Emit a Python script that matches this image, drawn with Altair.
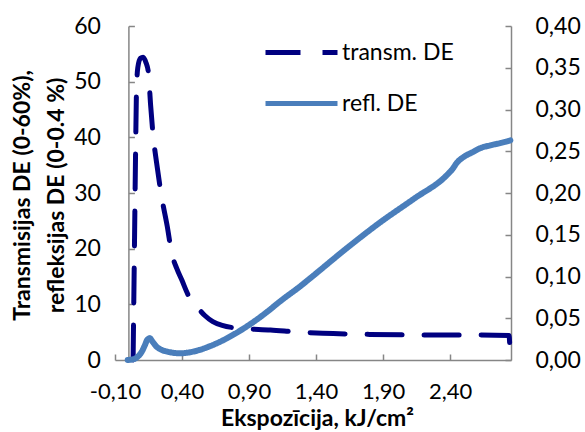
import altair as alt
import pandas as pd

# ---------------- data ----------------
series_names = ["transm. DE", "refl. DE"]

transm_x = [0.035, 0.045, 0.055, 0.06, 0.07, 0.09, 0.11, 0.13, 0.15, 0.165, 0.186,
            0.21, 0.248, 0.29, 0.323, 0.36, 0.398, 0.45, 0.51, 0.57, 0.63, 0.70,
            0.83, 1.06, 1.28, 1.45, 1.80, 2.20, 2.50, 2.84, 2.85]
transm_y = [0, 20, 40, 48, 52.5, 54.2, 54.4, 53.5, 51.5, 46, 40,
            35.5, 29.3, 24, 19.2, 16.5, 14.4, 11.5, 9.6, 8.0, 6.9, 6.2,
            5.7, 5.4, 5.0, 4.8, 4.6, 4.5, 4.5, 4.4, 0]

refl_x = [-0.005, 0.04, 0.07, 0.10, 0.124, 0.14, 0.16, 0.18, 0.21, 0.25, 0.29,
          0.34, 0.39, 0.45, 0.53, 0.60, 0.66, 0.78, 0.91, 1.03, 1.13, 1.28, 1.38,
          1.63, 1.88, 2.13, 2.38, 2.42, 2.45, 2.50, 2.57, 2.63, 2.70, 2.78, 2.85]
refl_y = [0.0, 0.001, 0.004, 0.010, 0.018, 0.024, 0.026, 0.022, 0.016, 0.012, 0.010,
          0.0085, 0.008, 0.009, 0.012, 0.016, 0.020, 0.030, 0.043, 0.057, 0.070, 0.088, 0.101,
          0.134, 0.165, 0.193, 0.222, 0.229, 0.236, 0.243, 0.249, 0.254, 0.257, 0.260, 0.263]

x_ticks = [-0.10, 0.40, 0.90, 1.40, 1.90, 2.40]
left_ticks = [0, 10, 20, 30, 40, 50, 60]
right_ticks = [0.00, 0.05, 0.10, 0.15, 0.20, 0.25, 0.30, 0.35, 0.40]

x_title = "Ekspozīcija, kJ/cm²"
y_title = ["Transmisijas DE (0-60%),", "refleksijas DE (0-0.4 %)"]

# ---------------- style ----------------
FONT = "Lato"
GRAY = "#868686"
W, H = 396, 334
X_MIN, X_MAX = -0.1, 2.855
Y0_POS = (0 - X_MIN) / (X_MAX - X_MIN) * W   # left axis sits at x = 0
TICK = 6

comma2 = "replace(replace(format(datum.value, '.2f'), '.', ','), '\u2212', '-')"

transm_df = pd.DataFrame({"x": transm_x, "v": transm_y, "series": series_names[0]})
refl_df = pd.DataFrame({"x": refl_x, "v": refl_y, "series": series_names[1]})

legend = alt.Legend(
    title=None, orient="none", legendX=148, legendY=-12,
    symbolType="stroke", symbolSize=5184, symbolStrokeWidth=5,
    labelFont=FONT, labelFontSize=23, labelColor="black", labelOffset=2,
    rowPadding=-30,
)
color = alt.Color("series:N",
                  scale=alt.Scale(domain=series_names, range=["#000080", "#4A7EBB"]),
                  legend=legend)
dash = alt.StrokeDash("series:N",
                      scale=alt.Scale(domain=series_names, range=[[35, 22], [1, 0]]),
                      legend=legend)

x_scale = alt.Scale(domain=[X_MIN, X_MAX], nice=False, zero=False)
left_scale = alt.Scale(domain=[0, 60], nice=False)
right_scale = alt.Scale(domain=[0, 0.4], nice=False)

# main x axis: domain line, labels and title (ticks drawn inward by a helper axis)
x_main = alt.X(
    "x:Q", scale=x_scale,
    axis=alt.Axis(
        values=x_ticks, labelExpr=comma2, grid=False, ticks=False,
        labelOverlap=False, labelFlush=False,
        labelFont=FONT, labelFontSize=22, labelColor="black", labelPadding=21,
        domainColor=GRAY, domainWidth=1.5,
        title=x_title, titleFont=FONT, titleFontSize=23, titleFontWeight="bold",
        titleColor="black", titleBaseline="alphabetic", titleX=202, titleY=65,
        titleAlign="center",
    ),
)

transm_line = alt.Chart(transm_df).mark_line(
    strokeWidth=5, interpolate="monotone", strokeCap="round"
).encode(
    x=x_main,
    y=alt.Y(
        "v:Q", scale=left_scale,
        axis=alt.Axis(
            orient="left", values=left_ticks, offset=-Y0_POS, grid=False, ticks=False,
            labelFont=FONT, labelFontSize=23, labelColor="black", labelPadding=28,
            domainColor=GRAY, domainWidth=1.5,
            title=y_title, titleFont=FONT, titleFontSize=23, titleFontWeight="bold",
            titleColor="black", titleBaseline="alphabetic", titleLineHeight=34,
            titleAngle=-90, titleAlign="center", titleX=29 - 115 - Y0_POS, titleY=169,
        ),
    ),
    color=color,
    strokeDash=dash,
)

refl_line = alt.Chart(refl_df).mark_line(
    strokeWidth=6, interpolate="monotone", strokeCap="round"
).encode(
    x=alt.X("x:Q", scale=x_scale, axis=None),
    y=alt.Y(
        "v:Q", scale=right_scale,
        axis=alt.Axis(
            orient="right", values=right_ticks, labelExpr=comma2, grid=False, ticks=False,
            labelFont=FONT, labelFontSize=23, labelColor="black", labelPadding=24,
            domainColor=GRAY, domainWidth=1.5, title=None,
        ),
    ),
    color=color,
    strokeDash=dash,
)

# helper layers (invisible marks) that only carry inward-pointing tick marks
tick_style = dict(labels=False, domain=False, grid=False, title=None,
                  tickSize=TICK, tickColor=GRAY, tickWidth=1.5)

ticks_left_bottom = alt.Chart(transm_df).mark_line(opacity=0).encode(
    x=alt.X("x:Q", scale=x_scale,
            axis=alt.Axis(orient="top", values=x_ticks, offset=-H, **tick_style)),
    y=alt.Y("v:Q", scale=left_scale,
            axis=alt.Axis(orient="right", values=left_ticks, offset=-(W - Y0_POS),
                          **tick_style)),
)

ticks_right = alt.Chart(refl_df).mark_line(opacity=0).encode(
    x=alt.X("x:Q", scale=x_scale, axis=None),
    y=alt.Y("v:Q", scale=right_scale,
            axis=alt.Axis(orient="left", values=right_ticks, offset=-W, **tick_style)),
)

chart = alt.layer(transm_line, refl_line, ticks_left_bottom, ticks_right).resolve_scale(
    y="independent"
).resolve_axis(
    x="independent", y="independent"
).properties(
    width=W, height=H,
    padding={"left": 115, "top": 26, "right": 74, "bottom": 72},
    autosize=alt.AutoSizeParams(type="none"),
).configure_view(stroke=None)

chart.save("out.html", embed_options={"renderer": "svg", "actions": False})
